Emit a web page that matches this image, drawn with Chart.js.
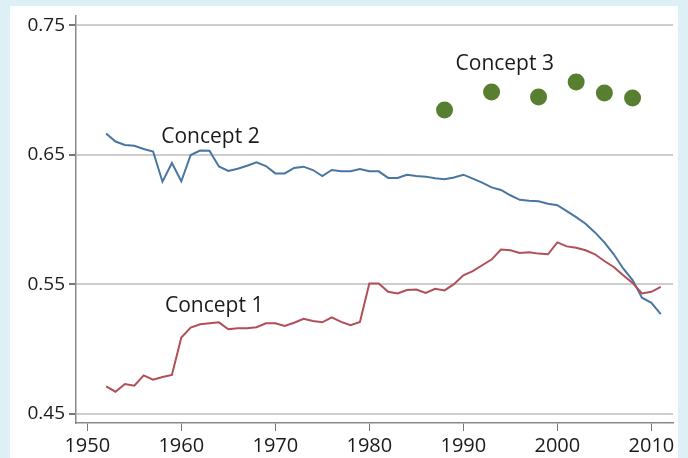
<!DOCTYPE html>
<html>
<head>
<meta charset="utf-8">
<script src="https://cdn.jsdelivr.net/npm/chart.js@4.4.1/dist/chart.umd.min.js"></script>
<style>
    html, body { margin: 0; padding: 0; background: #ddf0f5; }
    #panel { position: absolute; left: 10px; top: 6px; width: 668px; height: 452px; background: #fff; }
    #wrap { position: absolute; left: 0; top: 0; width: 688px; height: 458px; }
</style>
</head>
<body>
<div id="panel"></div>
<div id="wrap"><canvas id="myChart" width="688" height="458"></canvas></div>
<script>
var years = [1952, 1953, 1954, 1955, 1956, 1957, 1958, 1959, 1960, 1961,
             1962, 1963, 1964, 1965, 1966, 1967, 1968, 1969, 1970, 1971,
             1972, 1973, 1974, 1975, 1976, 1977, 1978, 1979, 1980, 1981,
             1982, 1983, 1984, 1985, 1986, 1987, 1988, 1989, 1990, 1991,
             1992, 1993, 1994, 1995, 1996, 1997, 1998, 1999, 2000, 2001,
             2002, 2003, 2004, 2005, 2006, 2007, 2008, 2009, 2010, 2011];

var concept1 = [0.4710, 0.4669, 0.4728, 0.4715, 0.4795, 0.4762, 0.4782, 0.4798, 0.5087, 0.5164,
                0.5190, 0.5198, 0.5205, 0.5152, 0.5159, 0.5159, 0.5167, 0.5198, 0.5198, 0.5177,
                0.5202, 0.5233, 0.5215, 0.5205, 0.5244, 0.5208, 0.5182, 0.5208, 0.5505, 0.5505,
                0.5441, 0.5428, 0.5454, 0.5459, 0.5433, 0.5464, 0.5452, 0.5500, 0.5569, 0.5600,
                0.5646, 0.5690, 0.5767, 0.5762, 0.5741, 0.5746, 0.5736, 0.5731, 0.5823, 0.5792,
                0.5782, 0.5762, 0.5731, 0.5679, 0.5633, 0.5569, 0.5510, 0.5428, 0.5441, 0.5479];

var concept2 = [0.6664, 0.6602, 0.6575, 0.6569, 0.6544, 0.6525, 0.6292, 0.6436, 0.6295, 0.6498,
                0.6533, 0.6531, 0.6410, 0.6375, 0.6392, 0.6415, 0.6441, 0.6413, 0.6356, 0.6356,
                0.6398, 0.6408, 0.6382, 0.6336, 0.6382, 0.6372, 0.6372, 0.6390, 0.6372, 0.6372,
                0.6321, 0.6321, 0.6346, 0.6336, 0.6331, 0.6318, 0.6310, 0.6325, 0.6346, 0.6315,
                0.6285, 0.6248, 0.6228, 0.6187, 0.6152, 0.6144, 0.6141, 0.6121, 0.6110, 0.6064,
                0.6018, 0.5967, 0.5900, 0.5823, 0.5731, 0.5621, 0.5531, 0.5395, 0.5356, 0.5269];

var concept3Years = [1988, 1993, 1998, 2002, 2005, 2008];
var concept3 = [0.6846, 0.6985, 0.6946, 0.7062, 0.6977, 0.6938];

var xTicks = [1950, 1960, 1970, 1980, 1990, 2000, 2010];
var yTicks = [0.45, 0.55, 0.65, 0.75];

// in-plot labels, anchored in data units (centre x, baseline y)
var seriesLabels = [
    { text: "Concept 1", x: 1963.5, y: 0.5287 },
    { text: "Concept 2", x: 1963.1, y: 0.6592 },
    { text: "Concept 3", x: 1994.4, y: 0.7152 }
];

var fontFamily = '"Open Sans", "Noto Sans", sans-serif';

function toPoints(xs, ys) {
    return xs.map(function (x, i) { return { x: x, y: ys[i] }; });
}

var labelPlugin = {
    id: 'seriesLabels',
    afterDatasetsDraw: function (chart) {
        var ctx = chart.ctx;
        var xs = chart.scales.x, ys = chart.scales.y;
        ctx.save();
        ctx.font = '21px ' + fontFamily;
        ctx.fillStyle = '#1a1a1a';
        ctx.textAlign = 'center';
        ctx.textBaseline = 'alphabetic';
        seriesLabels.forEach(function (l) {
            ctx.fillText(l.text, xs.getPixelForValue(l.x), ys.getPixelForValue(l.y));
        });
        ctx.restore();
    }
};

var ctx = document.getElementById("myChart").getContext("2d");
var myChart = new Chart(ctx, {
    type: "line",
    data: {
        datasets: [
            {
                label: "Concept 1",
                data: toPoints(years, concept1),
                borderColor: "rgb(178, 78, 88)",
                borderWidth: 2,
                pointRadius: 0,
                tension: 0
            },
            {
                label: "Concept 2",
                data: toPoints(years, concept2),
                borderColor: "rgb(72, 118, 160)",
                borderWidth: 2,
                pointRadius: 0,
                tension: 0
            },
            {
                label: "Concept 3",
                data: toPoints(concept3Years, concept3),
                showLine: false,
                pointRadius: 8.5,
                pointBackgroundColor: "rgb(88, 126, 50)",
                pointBorderWidth: 0
            }
        ]
    },
    options: {
        responsive: false,
        animation: false,
        layout: { padding: { top: 13, right: 15, left: 0, bottom: 0 } },
        plugins: {
            legend: { display: false },
            tooltip: { enabled: false }
        },
        scales: {
            x: {
                type: "linear",
                min: 1948.8,
                max: 2012.3,
                afterBuildTicks: function (s) {
                    s.ticks = xTicks.map(function (v) { return { value: v }; });
                },
                afterFit: function (s) { s.height = 35; },
                ticks: {
                    autoSkip: false,
                    maxRotation: 0,
                    padding: 3,
                    color: "#1a1a1a",
                    font: { family: fontFamily, size: 20 },
                    callback: function (v) { return String(v); }
                },
                grid: {
                    drawOnChartArea: false,
                    drawTicks: true,
                    tickLength: 8,
                    tickColor: "#777"
                },
                border: { color: "#888", width: 1.5 }
            },
            y: {
                min: 0.4427,
                max: 0.7577,
                afterBuildTicks: function (s) {
                    s.ticks = yTicks.map(function (v) { return { value: v }; });
                },
                afterFit: function (s) { s.width = 76; },
                ticks: {
                    padding: 4,
                    color: "#1a1a1a",
                    font: { family: fontFamily, size: 19 },
                    callback: function (v) { return v.toFixed(2); }
                },
                grid: {
                    color: "#cdcdcd",
                    lineWidth: 2,
                    tickLength: 7,
                    tickColor: "#777"
                },
                border: { color: "#888", width: 1.5 }
            }
        }
    },
    plugins: [labelPlugin]
});
</script>
</body>
</html>
